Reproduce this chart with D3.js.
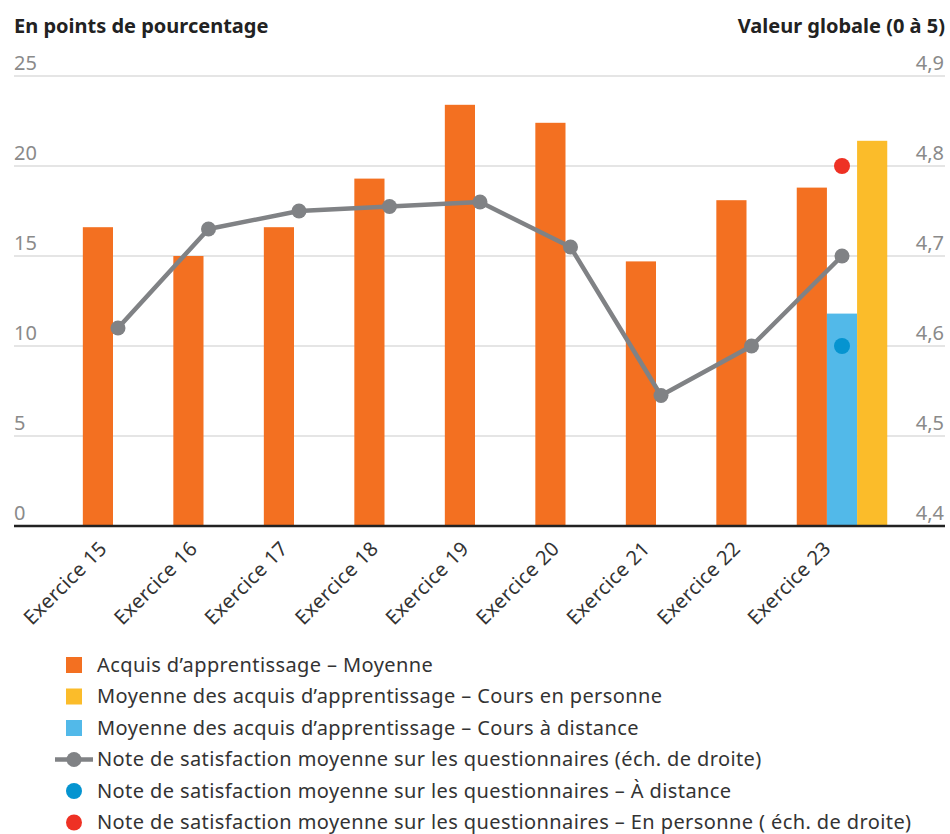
<!DOCTYPE html>
<html>
<head>
<meta charset="utf-8">
<script src="https://cdn.jsdelivr.net/npm/d3@7"></script>
<style>
  body { margin: 0; background: #fff; }
  svg { display: block; font-family: "Noto Sans", "Open Sans", sans-serif; }
</style>
</head>
<body>
<script>
// data
const categories = ["Exercice 15", "Exercice 16", "Exercice 17", "Exercice 18", "Exercice 19",
                    "Exercice 20", "Exercice 21", "Exercice 22", "Exercice 23"];
const acquisMoyenne = [16.6, 15.0, 16.6, 19.3, 23.4, 22.4, 14.7, 18.1, 18.8];
const acquisEnPersonne = [null, null, null, null, null, null, null, null, 21.4];
const acquisADistance = [null, null, null, null, null, null, null, null, 11.8];
const satisfaction = [4.62, 4.73, 4.75, 4.755, 4.76, 4.71, 4.545, 4.60, 4.70];
const satisfactionADistance = [null, null, null, null, null, null, null, null, 4.60];
const satisfactionEnPersonne = [null, null, null, null, null, null, null, null, 4.80];
const leftTicks = [0, 5, 10, 15, 20, 25];
const rightTicks = [4.4, 4.5, 4.6, 4.7, 4.8, 4.9];

const legendItems = [
  { label: "Acquis d’apprentissage – Moyenne", type: "rect", color: "#F37021" },
  { label: "Moyenne des acquis d’apprentissage – Cours en personne", type: "rect", color: "#FBBC2A" },
  { label: "Moyenne des acquis d’apprentissage – Cours à distance", type: "rect", color: "#52B9E9" },
  { label: "Note de satisfaction moyenne sur les questionnaires (éch. de droite)", type: "line", color: "#808285" },
  { label: "Note de satisfaction moyenne sur les questionnaires – À distance", type: "dot", color: "#0594D0" },
  { label: "Note de satisfaction moyenne sur les questionnaires – En personne ( éch. de droite)", type: "dot", color: "#EE3124" }
];

const width = 950, height = 834;
const plotLeft = 14, plotRight = 945, plotTop = 76, plotBottom = 526;

const svg = d3.select("body").append("svg")
  .attr("width", width)
  .attr("height", height);

const x = d3.scalePoint().domain(categories).range([118, 842]);
const step = x.step();
const barW = step / 3;

const yLeft = d3.scaleLinear().domain([0, 25]).range([plotBottom, plotTop]);
const yRight = d3.scaleLinear().domain([4.4, 4.9]).range([plotBottom, plotTop]);

// gridlines
svg.append("g")
  .selectAll("line")
  .data(leftTicks.slice(1))
  .join("line")
  .attr("x1", plotLeft).attr("x2", plotRight)
  .attr("y1", d => yLeft(d)).attr("y2", d => yLeft(d))
  .attr("stroke", "#dcdcdc")
  .attr("stroke-width", 1.5);

// left tick labels (above gridlines)
svg.append("g")
  .selectAll("text")
  .data(leftTicks)
  .join("text")
  .attr("x", plotLeft)
  .attr("y", d => yLeft(d) - 6)
  .attr("font-size", 20)
  .attr("fill", "#8a8a8a")
  .text(d => d);

// right tick labels
const fmt = d => d.toFixed(1).replace(".", ",");
svg.append("g")
  .selectAll("text")
  .data(rightTicks)
  .join("text")
  .attr("x", plotRight - 1)
  .attr("y", d => yRight(d) - 6)
  .attr("text-anchor", "end")
  .attr("font-size", 20)
  .attr("fill", "#8a8a8a")
  .text(fmt);

// axis titles
svg.append("text")
  .attr("x", plotLeft).attr("y", 33)
  .attr("font-size", 20).attr("font-weight", "bold").attr("fill", "#222")
  .text("En points de pourcentage");
svg.append("text")
  .attr("x", plotRight).attr("y", 33)
  .attr("text-anchor", "end")
  .attr("font-size", 20).attr("font-weight", "bold").attr("fill", "#222")
  .text("Valeur globale (0 à 5)");

// bars: the last year is split in three side by side
const last = categories.length - 1;
const orangeX = (d, i) => x(d) - barW - (i === last ? barW / 2 : 5);

svg.append("g")
  .selectAll("rect")
  .data(categories)
  .join("rect")
  .attr("x", (d, i) => orangeX(d, i))
  .attr("width", barW)
  .attr("y", (d, i) => yLeft(acquisMoyenne[i]))
  .attr("height", (d, i) => yLeft(0) - yLeft(acquisMoyenne[i]))
  .attr("fill", legendItems[0].color);

svg.append("g")
  .selectAll("rect")
  .data(categories.filter((d, i) => acquisADistance[i] != null))
  .join("rect")
  .attr("x", d => x(d) - barW / 2)
  .attr("width", barW)
  .attr("y", d => yLeft(acquisADistance[categories.indexOf(d)]))
  .attr("height", d => yLeft(0) - yLeft(acquisADistance[categories.indexOf(d)]))
  .attr("fill", legendItems[2].color);

svg.append("g")
  .selectAll("rect")
  .data(categories.filter((d, i) => acquisEnPersonne[i] != null))
  .join("rect")
  .attr("x", d => x(d) + barW / 2)
  .attr("width", barW)
  .attr("y", d => yLeft(acquisEnPersonne[categories.indexOf(d)]))
  .attr("height", d => yLeft(0) - yLeft(acquisEnPersonne[categories.indexOf(d)]))
  .attr("fill", legendItems[1].color);

// baseline
svg.append("line")
  .attr("x1", plotLeft).attr("x2", plotRight)
  .attr("y1", plotBottom).attr("y2", plotBottom)
  .attr("stroke", "#222")
  .attr("stroke-width", 2.5);

// satisfaction line
const line = d3.line()
  .x((d, i) => x(categories[i]))
  .y(d => yRight(d));

svg.append("path")
  .attr("d", line(satisfaction))
  .attr("fill", "none")
  .attr("stroke", legendItems[3].color)
  .attr("stroke-width", 4.5)
  .attr("stroke-linejoin", "round");

svg.append("g")
  .selectAll("circle")
  .data(satisfaction)
  .join("circle")
  .attr("cx", (d, i) => x(categories[i]))
  .attr("cy", d => yRight(d))
  .attr("r", 7.5)
  .attr("fill", legendItems[3].color);

// single dots for 23
const dotSeries = [
  { values: satisfactionADistance, color: legendItems[4].color },
  { values: satisfactionEnPersonne, color: legendItems[5].color }
];
dotSeries.forEach(s => {
  svg.append("g")
    .selectAll("circle")
    .data(categories.filter((d, i) => s.values[i] != null))
    .join("circle")
    .attr("cx", d => x(d))
    .attr("cy", d => yRight(s.values[categories.indexOf(d)]))
    .attr("r", 8)
    .attr("fill", s.color);
});

// category labels, rotated
svg.append("g")
  .selectAll("text")
  .data(categories)
  .join("text")
  .attr("transform", d => `translate(${x(d) - 10}, ${plotBottom + 24}) rotate(-45)`)
  .attr("text-anchor", "end")
  .attr("font-size", 20)
  .attr("letter-spacing", 0.3)
  .attr("fill", "#333")
  .text(d => d);

// legend
const legend = svg.append("g")
  .selectAll("g")
  .data(legendItems)
  .join("g")
  .attr("transform", (d, i) => `translate(0, ${665 + i * 31.5})`);

legend.each(function(d) {
  const g = d3.select(this);
  if (d.type === "rect") {
    g.append("rect").attr("x", 66).attr("y", -8).attr("width", 16).attr("height", 16).attr("fill", d.color);
  } else if (d.type === "line") {
    g.append("line").attr("x1", 55).attr("x2", 93).attr("y1", 0).attr("y2", 0)
      .attr("stroke", d.color).attr("stroke-width", 4.5);
    g.append("circle").attr("cx", 74).attr("cy", 0).attr("r", 7.5).attr("fill", d.color);
  } else {
    g.append("circle").attr("cx", 74).attr("cy", 0).attr("r", 8).attr("fill", d.color);
  }
});

legend.append("text")
  .attr("x", 97)
  .attr("y", 0)
  .attr("dy", "0.34em")
  .attr("font-size", 20)
  .attr("letter-spacing", 0.4)
  .attr("fill", "#333")
  .text(d => d.label);
</script>
</body>
</html>
